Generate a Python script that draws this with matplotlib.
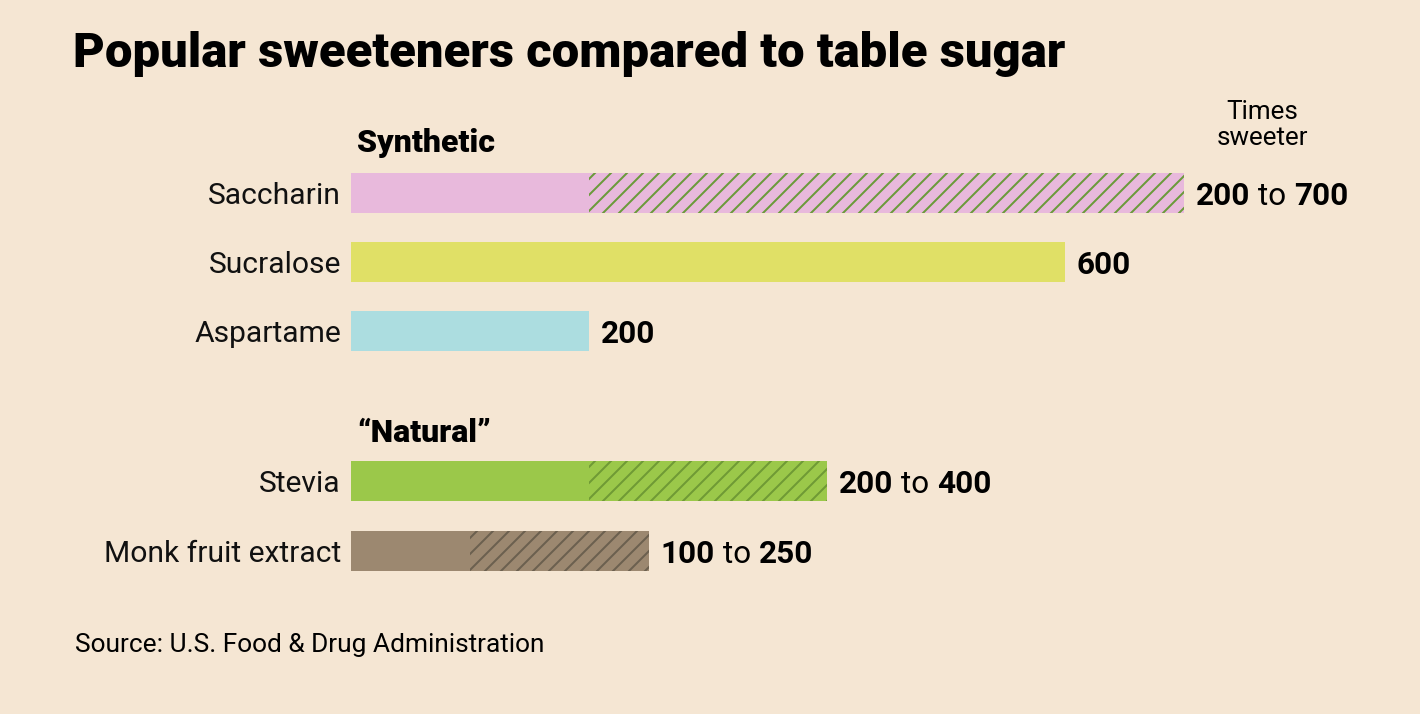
import matplotlib
matplotlib.use("Agg")
import matplotlib.pyplot as plt

# --- data ---
names = ["Saccharin", "Sucralose", "Aspartame", "Stevia", "Monk fruit extract"]
low = [200, 600, 200, 200, 100]
high = [700, 600, 200, 400, 250]
groups = ["Synthetic", "\u201cNatural\u201d"]

title = "Popular sweeteners compared to table sugar"
source = "Source: U.S. Food & Drug Administration"
unit_label = "Times\nsweeter"

# --- style ---
bg = "#f5e6d3"
colors = ["#e8b9dc", "#e0e066", "#acdde0", "#9bc84a", "#9c8870"]
hatch_colors = ["#6a9a3a", "#6a9a3a", "#6a9a3a", "#6f9a35", "#6b604f"]
row_y = [193, 262, 331, 481, 551]      # pixel rows
group_y = [140, 430]
bar_h = 40

W, H, DPI = 1420, 714, 96
PT = 72 / DPI   # pixels -> points

plt.rcParams["font.family"] = ["Roboto", "DejaVu Sans"]
plt.rcParams["hatch.linewidth"] = 2.0 * PT

fig = plt.figure(figsize=(W / DPI, H / DPI), dpi=DPI, facecolor=bg)
ax = fig.add_axes([0, 0, 1, 1])
ax.set_facecolor(bg)
px_per_unit = 1.19
x0 = 351
ax.set_xlim(-x0 / px_per_unit, (W - x0) / px_per_unit)
ax.set_ylim(H, 0)
ax.axis("off")

for i, name in enumerate(names):
    y = row_y[i]
    # solid part up to the low value
    ax.barh(y, low[i], height=bar_h, color=colors[i], linewidth=0)
    # hatched part for the range
    if high[i] > low[i]:
        ax.barh(y, high[i] - low[i], left=low[i], height=bar_h,
                facecolor=colors[i], edgecolor=hatch_colors[i],
                hatch="//", linewidth=0)
    ax.annotate(name, xy=(0, y), xytext=(-10 * PT, 0), textcoords="offset points",
                ha="right", va="center_baseline", fontsize=30 * PT, color="#111111")

    # value label
    t1 = ax.annotate(str(low[i]), xy=(high[i], y), xytext=(12 * PT, 0),
                     textcoords="offset points", ha="left", va="center_baseline",
                     fontsize=31.5 * PT, fontweight="bold", color="black")
    if high[i] > low[i]:
        t2 = ax.annotate(" to ", xy=(1, 0), xycoords=t1, ha="left", va="bottom",
                         fontsize=31.5 * PT, color="black")
        ax.annotate(str(high[i]), xy=(1, 0), xycoords=t2, ha="left", va="bottom",
                    fontsize=31.5 * PT, fontweight="bold", color="black")

for g, gy in zip(groups, group_y):
    ax.annotate(g, xy=(0, gy), xytext=(6 * PT, 0), textcoords="offset points",
                ha="left", va="center_baseline", fontsize=32 * PT, fontweight="black")

fig.text(73 / W, 1 - 67 / H, title, fontsize=49 * PT, fontweight="black",
         ha="left", va="baseline")
fig.text(1262 / W, 1 - 125 / H, unit_label, fontsize=26 * PT, ha="center",
         va="center", linespacing=1.1)
fig.text(75 / W, 1 - 652 / H, source, fontsize=26.3 * PT, ha="left", va="baseline")

fig.savefig("out.png", dpi=DPI, facecolor=bg)
